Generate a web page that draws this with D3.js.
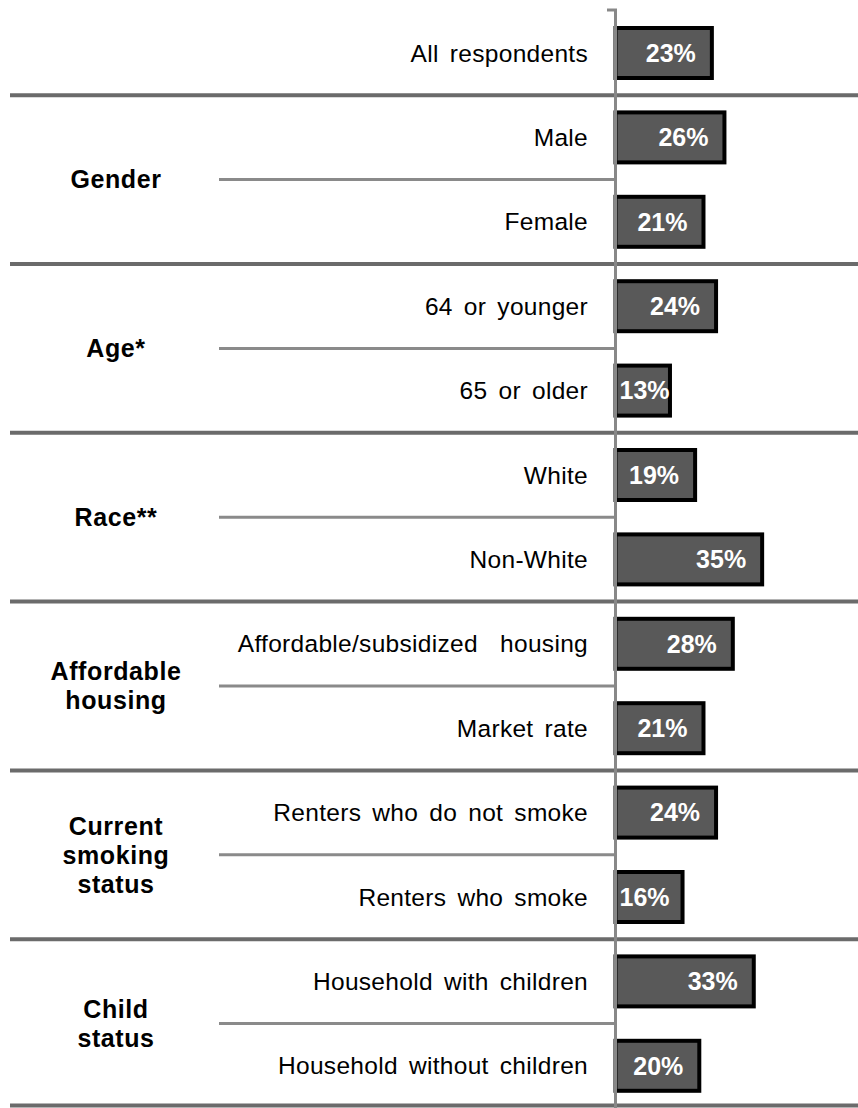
<!DOCTYPE html>
<html><head><meta charset="utf-8">
<script src="https://cdn.jsdelivr.net/npm/d3@7"></script>
<style>
html,body{margin:0;padding:0;background:#fff;}
svg{display:block;font-family:"Liberation Sans",Arial,sans-serif;}
</style></head>
<body>
<svg id="chart" width="858" height="1108"></svg>
<script>
const categories = ["All respondents","Male","Female","64 or younger","65 or older","White","Non-White",
  "Affordable/subsidized  housing","Market rate","Renters who do not smoke","Renters who smoke",
  "Household with children","Household without children"];
const values = [23,26,21,24,13,19,35,28,21,24,16,33,20];
const valueLabels = ["23%","26%","21%","24%","13%","19%","35%","28%","21%","24%","16%","33%","20%"];
const groupNames = [["Gender"],["Age*"],["Race**"],["Affordable","housing"],["Current","smoking","status"],["Child","status"]];
const groupStarts = [1,3,5,7,9,11];

const svg = d3.select("#chart");
const axisX = 615.5;
const x = d3.scaleLinear().domain([0,100]).range([axisX, axisX+419]);
const y = d3.scaleBand().domain(d3.range(categories.length)).range([10.8,1108]).paddingInner(0.4076).paddingOuter(0.2038);
const step = y.step();
const rowCenter = i => y(i) + y.bandwidth()/2;

// group separators
const sepYs = [rowCenter(0)+step/2].concat(groupStarts.map(s => rowCenter(s+1)+step/2));
svg.selectAll("line.sep").data(sepYs).enter().append("line")
  .attr("class","sep")
  .attr("x1",10).attr("x2",858)
  .attr("y1",(d,i)=> i===sepYs.length-1 ? Math.min(d,1105.5) : d)
  .attr("y2",(d,i)=> i===sepYs.length-1 ? Math.min(d,1105.5) : d)
  .attr("stroke","#6b6b6b").attr("stroke-width",4);

// within-group lines
svg.selectAll("line.sub").data(groupStarts).enter().append("line")
  .attr("class","sub")
  .attr("x1",219).attr("x2",axisX)
  .attr("y1",d=>rowCenter(d)+step/2).attr("y2",d=>rowCenter(d)+step/2)
  .attr("stroke","#8a8a8a").attr("stroke-width",3);

// bars
svg.selectAll("rect.bar").data(values).enter().append("rect")
  .attr("class","bar")
  .attr("x",x(0)).attr("y",(d,i)=>y(i))
  .attr("width",d=>x(d)-x(0)).attr("height",y.bandwidth())
  .attr("fill","#595959").attr("stroke","#000").attr("stroke-width",4);

// axis line
svg.append("line").attr("x1",axisX).attr("x2",axisX).attr("y1",10).attr("y2",1108)
  .attr("stroke","#888888").attr("stroke-width",3);
svg.append("line").attr("x1",607).attr("x2",axisX+1.5).attr("y1",10).attr("y2",10)
  .attr("stroke","#888888").attr("stroke-width",3);

// category labels
svg.selectAll("text.cat").data(categories).enter().append("text")
  .attr("class","cat")
  .attr("x",588).attr("y",(d,i)=>rowCenter(i))
  .attr("dy","0.35em").attr("text-anchor","end")
  .style("font-size","24.5px").style("letter-spacing","0.3px").style("word-spacing","4px")
  .style("fill","#000").style("white-space","pre")
  .text(d=>d);

// value labels
svg.selectAll("text.val").data(values).enter().append("text")
  .attr("class","val")
  .attr("y",(d,i)=>rowCenter(i)).attr("dy","0.35em")
  .attr("text-anchor","end")
  .style("font-size","25px").style("font-weight","bold").style("fill","#fff")
  .text((d,i)=>valueLabels[i])
  .each(function(d){
    const w = this.getComputedTextLength();
    const xr = Math.max(x(d)-16, axisX+4+w);
    d3.select(this).attr("x", xr);
  });

// group labels
const lh = 29;
groupNames.forEach((lines,gi)=>{
  const cy = rowCenter(groupStarts[gi]) + step/2;
  const t = svg.append("text").attr("text-anchor","middle")
    .style("font-size","25px").style("font-weight","bold").style("letter-spacing","0.6px").style("fill","#000");
  lines.forEach((ln,li)=>{
    t.append("tspan").attr("x",116)
      .attr("y", cy + (li - (lines.length-1)/2)*lh)
      .attr("dy","0.35em").text(ln);
  });
});
</script>
</body></html>
